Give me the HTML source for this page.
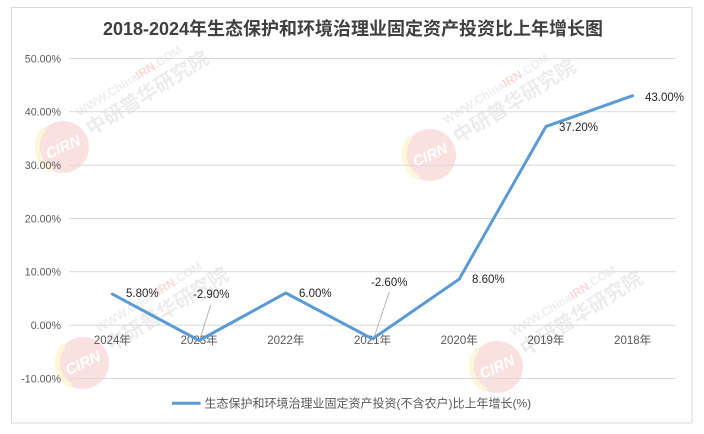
<!DOCTYPE html>
<html><head><meta charset="utf-8"><style>
html,body{margin:0;padding:0;background:#fff;}
svg{display:block;}
text{font-family:"Liberation Sans","Noto Sans CJK SC",sans-serif;}
</style></head><body>
<svg width="704" height="434" viewBox="0 0 704 434" xmlns="http://www.w3.org/2000/svg">
<defs>
<g id="wm">
    <circle cx="0" cy="0" r="26" fill="#fbe0e0"/>
    <path d="M-19,-18 A26,26 0 0,0 -11,23" stroke="#fdf6d8" stroke-width="5" fill="none"/>
    <text x="0" y="5" font-size="15" font-weight="bold" font-style="italic" fill="#fff" text-anchor="middle" transform="rotate(-25)">CIRN</text>
    <g transform="rotate(-32)">
      <text x="30" y="6" font-size="20" font-weight="bold" fill="#ececec">中研普华研究院</text>
      <text x="30" y="-17" font-size="12" font-weight="bold" fill="#eeeeee">WWW.China<tspan fill="#f8d8d8">IRN</tspan>.COM</text>
    </g>
</g>
</defs>
<rect x="0" y="0" width="704" height="434" fill="#fff"/>
<rect x="11.5" y="7.5" width="680.5" height="415.5" fill="#fff" stroke="#d9d9d9" stroke-width="1"/>

<!-- watermarks -->
<use href="#wm" x="63" y="147"/>
<use href="#wm" x="430" y="155"/>
<use href="#wm" x="83" y="363"/>
<use href="#wm" x="497" y="367"/>

<!-- title -->
<text x="353" y="35" font-size="18" font-weight="bold" fill="#404040" text-anchor="middle">2018-2024年生态保护和环境治理业固定资产投资比上年增长图</text>

<!-- gridlines -->
<g stroke="#d9d9d9" stroke-width="1">
  <line x1="69" y1="58.5" x2="676" y2="58.5"/>
  <line x1="69" y1="111.8" x2="676" y2="111.8"/>
  <line x1="69" y1="165.2" x2="676" y2="165.2"/>
  <line x1="69" y1="218.5" x2="676" y2="218.5"/>
  <line x1="69" y1="271.8" x2="676" y2="271.8"/>
  <line x1="69" y1="325.2" x2="676" y2="325.2"/>
  <line x1="69" y1="378.5" x2="676" y2="378.5"/>
</g>

<!-- y labels -->
<g font-size="10.7" fill="#595959" text-anchor="end">
  <text x="61" y="62.3">50.00%</text>
  <text x="61" y="115.6">40.00%</text>
  <text x="61" y="169">30.00%</text>
  <text x="61" y="222.3">20.00%</text>
  <text x="61" y="275.6">10.00%</text>
  <text x="61" y="329">0.00%</text>
  <text x="61" y="382.3">-10.00%</text>
</g>

<!-- x labels -->
<g font-size="11.5" fill="#595959" text-anchor="middle">
  <text x="112.4" y="344">2024年</text>
  <text x="199.1" y="344">2023年</text>
  <text x="285.8" y="344">2022年</text>
  <text x="372.5" y="344">2021年</text>
  <text x="459.2" y="344">2020年</text>
  <text x="545.9" y="344">2019年</text>
  <text x="632.6" y="344">2018年</text>
</g>

<!-- leader lines -->
<g stroke="#a6a6a6" stroke-width="0.8">
  <line x1="210.7" y1="305" x2="200.3" y2="338"/>
  <line x1="389.3" y1="291.7" x2="374.3" y2="336.7"/>
</g>

<!-- series -->
<polyline points="112.4,294.1 199.1,340.5 285.8,293 372.5,338.9 459.2,279.1 545.9,126.6 632.6,95.7" fill="none" stroke="#5b9bd5" stroke-width="3" stroke-linejoin="round" stroke-linecap="round"/>

<!-- data labels -->
<g font-size="11.5" fill="#262626">
  <text x="126" y="297">5.80%</text>
  <text x="193" y="298">-2.90%</text>
  <text x="299" y="297">6.00%</text>
  <text x="371" y="286">-2.60%</text>
  <text x="472" y="283">8.60%</text>
  <text x="559" y="131">37.20%</text>
  <text x="645" y="101">43.00%</text>
</g>

<!-- legend -->
<line x1="172" y1="403.3" x2="200.5" y2="403.3" stroke="#5b9bd5" stroke-width="3"/>
<text x="204.5" y="407.5" font-size="12" fill="#595959">生态保护和环境治理业固定资产投资(不含农户)比上年增长(%)</text>
</svg>
</body></html>
